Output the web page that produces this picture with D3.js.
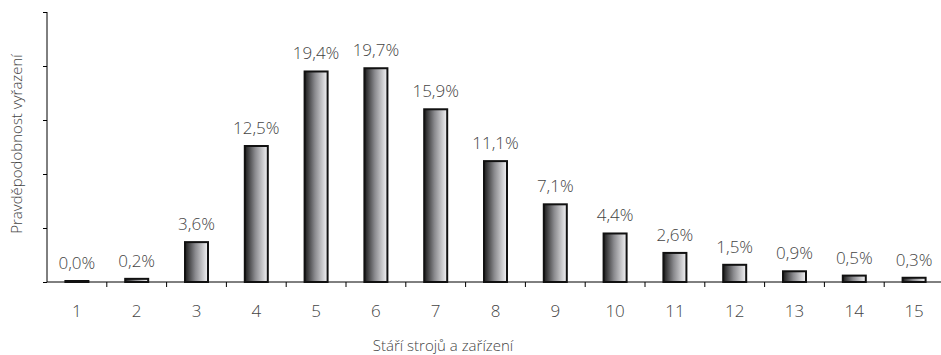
<!DOCTYPE html>
<html>
<head>
<meta charset="utf-8">
<script src="https://cdn.jsdelivr.net/npm/d3@7"></script>
<style>
  body { margin: 0; background: #fff; }
  svg { display: block; font-family: "Open Sans", "Lato", sans-serif; }
</style>
</head>
<body>
<div id="chart"></div>
<script>
var categories = ["1", "2", "3", "4", "5", "6", "7", "8", "9", "10", "11", "12", "13", "14", "15"];
var values = [0.0, 0.2, 3.6, 12.5, 19.4, 19.7, 15.9, 11.1, 7.1, 4.4, 2.6, 1.5, 0.9, 0.5, 0.3];
var yTicks = [0, 5, 10, 15, 20, 25];

var width = 941,
    height = 355,
    plotLeft = 47,
    plotTop = 12,
    plotBottom = 282,
    plotRight = 944;

var svg = d3.select('#chart')
    .append('svg')
    .attr('width', width)
    .attr('height', height);

var defs = svg.append('defs');
var grad = defs.append('linearGradient')
    .attr('id', 'barGrad')
    .attr('x1', '0%').attr('x2', '100%')
    .attr('y1', '0%').attr('y2', '0%');
grad.append('stop').attr('offset', '0%').attr('stop-color', '#1a1a1a');
grad.append('stop').attr('offset', '45%').attr('stop-color', '#8a8a8e');
grad.append('stop').attr('offset', '100%').attr('stop-color', '#f4f4f6');

var x = d3.scaleBand()
    .domain(categories)
    .range([plotLeft, plotRight]);

var y = d3.scaleLinear()
    .domain([0, 25])
    .range([plotBottom, plotTop]);

var barWidth = 23;

// y axis
var yAxis = d3.axisLeft(y)
    .tickValues(yTicks)
    .tickSize(4)
    .tickFormat('');
var yGuide = svg.append('g')
    .attr('transform', 'translate(' + plotLeft + ',0)')
    .call(yAxis);
yGuide.select('.domain').attr('d', 'M0,' + plotTop + 'V' + plotBottom);
yGuide.selectAll('path, line').attr('stroke', '#000');

// x axis with ticks between categories
var xGuide = svg.append('g')
    .attr('transform', 'translate(0,' + plotBottom + ')');
xGuide.append('line')
    .attr('x1', plotLeft).attr('x2', width)
    .attr('stroke', '#000');
xGuide.selectAll('line.tk')
    .data(categories.slice(1))
    .enter().append('line')
    .attr('class', 'tk')
    .attr('x1', function (d) { return x(d); })
    .attr('x2', function (d) { return x(d); })
    .attr('y1', 0).attr('y2', 5)
    .attr('stroke', '#000');
xGuide.selectAll('text')
    .data(categories)
    .enter().append('text')
    .attr('x', function (d) { return x(d) + x.bandwidth() / 2; })
    .attr('y', 35)
    .attr('text-anchor', 'middle')
    .attr('fill', '#444')
    .style('font-size', '17px')
    .style('font-weight', 300)
    .text(function (d) { return d; });

// bars
svg.append('g')
    .selectAll('rect')
    .data(values)
    .enter().append('rect')
    .attr('x', function (d, i) { return x(categories[i]) + (x.bandwidth() - barWidth) / 2; })
    .attr('y', function (d) { return y(d) - 1; })
    .attr('width', barWidth)
    .attr('height', function (d) { return plotBottom - y(d) + 1; })
    .attr('fill', 'url(#barGrad)')
    .attr('stroke', '#111')
    .attr('stroke-width', 2);

// value labels
var fmt = function (d) { return d.toFixed(1).replace('.', ',') + '%'; };
svg.append('g')
    .selectAll('text')
    .data(values)
    .enter().append('text')
    .attr('x', function (d, i) { return x(categories[i]) + x.bandwidth() / 2; })
    .attr('y', function (d) { return y(d) - 13; })
    .attr('text-anchor', 'middle')
    .attr('fill', '#444')
    .style('font-size', '17px')
    .style('font-weight', 300)
    .text(fmt);

// axis titles
svg.append('text')
    .attr('x', 443)
    .attr('y', 351)
    .attr('text-anchor', 'middle')
    .attr('fill', '#444')
    .style('font-size', '15px')
    .style('font-weight', 300)
    .text('Stáří strojů a zařízení');

svg.append('text')
    .attr('transform', 'translate(22,144) rotate(-90)')
    .attr('text-anchor', 'middle')
    .attr('fill', '#444')
    .style('font-size', '15px')
    .style('font-weight', 300)
    .text('Pravděpodobnost vyřazení');
</script>
</body>
</html>
